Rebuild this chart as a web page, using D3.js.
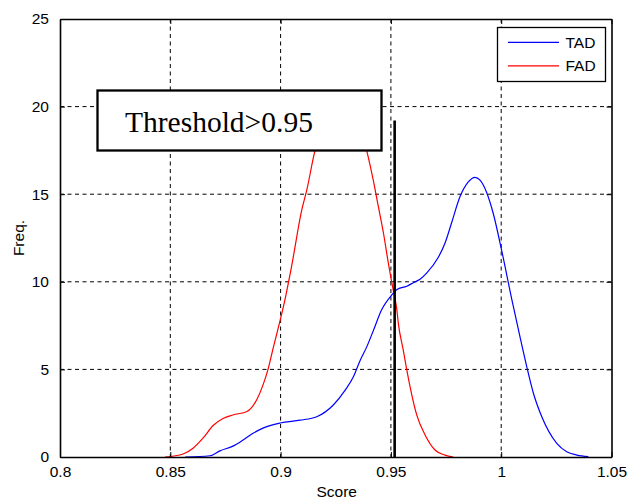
<!DOCTYPE html>
<html>
<head>
<meta charset="utf-8">
<script src="https://cdn.jsdelivr.net/npm/d3@7/dist/d3.min.js"></script>
<style>
  body { margin: 0; background: #fff; }
  text { font-family: "Liberation Sans", Arial, Helvetica, sans-serif; }
</style>
</head>
<body>
<svg id="chart" width="630" height="501"></svg>
<script>
// tick values
var scoreTicks = [0.8, 0.85, 0.9, 0.95, 1, 1.05];
var freqTicks = [0, 5, 10, 15, 20, 25];

// TAD curve (blue)
var tadScore = [0.8567, 0.8680, 0.8725, 0.8784, 0.8830, 0.8875, 0.8920, 0.8998, 0.9088, 0.9164,
                0.9239, 0.9292, 0.9330, 0.9360, 0.9391, 0.9420, 0.9458, 0.9504, 0.9526, 0.9572,
                0.9602, 0.9632, 0.9662, 0.9715, 0.9745, 0.9776, 0.9813, 0.9851, 0.9881, 0.9904,
                0.9934, 0.9964, 1.0002, 1.0048, 1.0085, 1.0116, 1.0146, 1.0184, 1.0252, 1.0297,
                1.0343, 1.0395];
var tadFreq = [0, 0.07, 0.35, 0.62, 0.97, 1.35, 1.65, 1.94, 2.1, 2.3,
               2.97, 3.8, 4.58, 5.5, 6.3, 7.2, 8.4, 9.25, 9.55, 9.75,
               9.95, 10.15, 10.5, 11.4, 12.2, 13.4, 14.85, 15.7, 15.96, 15.8,
               15.1, 13.9, 11.8, 9.0, 6.87, 5.15, 3.64, 2.3, 0.78, 0.3,
               0.11, 0.02];

// FAD curve (red)
var fadScore = [0.8476, 0.8558, 0.8603, 0.8650, 0.8694, 0.8739, 0.8784, 0.8848, 0.8893, 0.8920,
                0.8943, 0.8966, 0.9020, 0.9050, 0.9096, 0.9118, 0.9156, 0.9200, 0.9250, 0.9300,
                0.9350, 0.9390, 0.9420, 0.9443, 0.9466, 0.9488, 0.9511, 0.9526, 0.9534, 0.9556,
                0.9572, 0.9587, 0.9617, 0.9655, 0.9700, 0.9745, 0.9783];
var fadFreq = [0, 0.17, 0.5, 1.1, 1.8, 2.2, 2.4, 2.6, 3.3, 4.1,
               5.0, 6.2, 9.0, 10.9, 14.1, 15.2, 17.5, 19.2, 20.2, 20.2,
               19.2, 17.5, 15.8, 14.3, 12.8, 11.1, 9.5, 8.5, 7.6, 6.1,
               4.97, 4.0, 2.4, 1.26, 0.4, 0.11, 0];

var thresholdScore = 0.9517, thresholdTop = 19.2;
var legendNames = ["TAD", "FAD"];
var legendColors = ["#0000ff", "#ff0000"];

var svg = d3.select("#chart"),
    plotL = 60, plotR = 611.5, plotT = 19, plotB = 457;

var x = d3.scaleLinear().domain([0.8, 1.05]).range([plotL, plotR]);
var y = d3.scaleLinear().domain([0, 25]).range([plotB, plotT]);

// grid
var grid = svg.append("g")
    .attr("stroke", "#000").attr("stroke-width", 1).attr("stroke-dasharray", "4,3.5");
grid.selectAll("line.gx").data(scoreTicks.slice(1, -1)).enter().append("line")
    .attr("x1", function(d) { return x(d); }).attr("x2", function(d) { return x(d); })
    .attr("y1", plotT).attr("y2", plotB);
grid.selectAll("line.gy").data(freqTicks.slice(1, -1)).enter().append("line")
    .attr("y1", function(d) { return y(d); }).attr("y2", function(d) { return y(d); })
    .attr("x1", plotL).attr("x2", plotR);

// curves
var line = d3.line().curve(d3.curveMonotoneX)
    .x(function(d) { return x(d[0]); })
    .y(function(d) { return y(d[1]); });

svg.append("path")
    .datum(d3.zip(tadScore, tadFreq))
    .attr("d", line).attr("fill", "none")
    .attr("stroke", legendColors[0]).attr("stroke-width", 1.2);
svg.append("path")
    .datum(d3.zip(fadScore, fadFreq))
    .attr("d", line).attr("fill", "none")
    .attr("stroke", legendColors[1]).attr("stroke-width", 1.2);

// threshold line
svg.append("line")
    .attr("x1", x(thresholdScore)).attr("x2", x(thresholdScore))
    .attr("y1", y(thresholdTop)).attr("y2", y(0))
    .attr("stroke", "#000").attr("stroke-width", 2.6);

// axes (box with inward ticks)
var xAxisB = d3.axisBottom(x).tickValues(scoreTicks).tickSizeInner(-5).tickSizeOuter(0)
    .tickPadding(9).tickFormat(function(d) { return d3.format("")(d); });
var xAxisT = d3.axisTop(x).tickValues(scoreTicks).tickSizeInner(-5).tickSizeOuter(0).tickFormat("");
var yAxisL = d3.axisLeft(y).tickValues(freqTicks).tickSizeInner(-5).tickSizeOuter(0).tickPadding(11);
var yAxisR = d3.axisRight(y).tickValues(freqTicks).tickSizeInner(-5).tickSizeOuter(0).tickFormat("");

function styleAxis(g) {
  g.select(".domain").attr("stroke", "#000").attr("stroke-width", 1.6);
  g.selectAll(".tick line").attr("stroke", "#000").attr("stroke-width", 1);
  g.selectAll(".tick text").attr("fill", "#000")
    .style("font-family", "'Liberation Sans', Arial, sans-serif").style("font-size", "15.5px");
}
svg.append("g").attr("transform", "translate(0," + plotB + ")").call(xAxisB).call(styleAxis);
svg.append("g").attr("transform", "translate(0," + plotT + ")").call(xAxisT).call(styleAxis);
svg.append("g").attr("transform", "translate(" + plotL + ",0)").call(yAxisL).call(styleAxis);
svg.append("g").attr("transform", "translate(" + plotR + ",0)").call(yAxisR).call(styleAxis);

// axis titles
svg.append("text").attr("x", (plotL + plotR) / 2 + 1).attr("y", 497)
    .attr("text-anchor", "middle").style("font-size", "15.5px").text("Score");
svg.append("text").attr("transform", "translate(24," + ((plotT + plotB) / 2) + ") rotate(-90)")
    .attr("text-anchor", "middle").style("font-size", "15.5px").text("Freq.");

// threshold annotation box
svg.append("rect").attr("x", 97.5).attr("y", 90.5).attr("width", 284).attr("height", 60)
    .attr("fill", "#fff").attr("stroke", "#000").attr("stroke-width", 2.3);
svg.append("text").attr("x", 125).attr("y", 131.5)
    .style("font-family", "'Liberation Serif', 'Times New Roman', serif").style("font-size", "29.5px")
    .text("Threshold>0.95");

// legend
var legend = svg.append("g");
legend.append("rect").attr("x", 497.5).attr("y", 27.5).attr("width", 108).attr("height", 54)
    .attr("fill", "#fff").attr("stroke", "#000").attr("stroke-width", 1.3);
var item = legend.selectAll("g.item").data(legendNames).enter().append("g")
    .attr("transform", function(d, i) { return "translate(0," + (42.3 + i * 23.5) + ")"; });
item.append("line").attr("x1", 508).attr("x2", 559).attr("y1", 0).attr("y2", 0)
    .attr("stroke", function(d, i) { return legendColors[i]; }).attr("stroke-width", 1.2);
item.append("text").attr("x", 565.5).attr("y", 5.5).style("font-size", "15.5px").text(function(d) { return d; });
</script>
</body>
</html>
